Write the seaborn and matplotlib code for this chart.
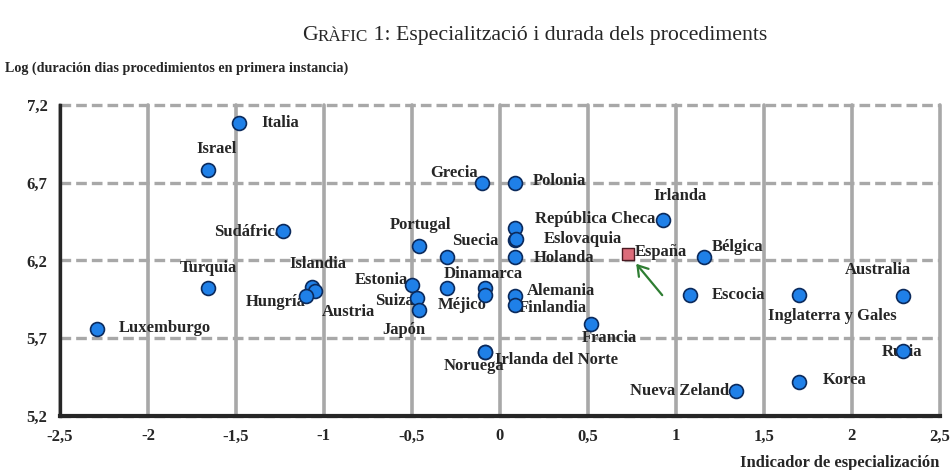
import matplotlib.pyplot as plt
import seaborn as sns
import pandas as pd

# datos
paises = ["Italia", "Israel", "Sudáfrica", "Turquia", "Islandia", "Austria", "Hungría",
          "Luxemburgo", "Estonia", "Suiza", "Japón", "Portugal", "", "", "Dinamarca", "Méjico",
          "Grecia", "Polonia", "República Checa", "Suecia", "Eslovaquia", "Holanda",
          "Alemania", "Finlandia", "Noruega", "Irlanda del Norte", "Francia", "España",
          "Irlanda", "Bélgica", "Escocia", "Inglaterra y Gales", "Australia", "Rusia",
          "Korea", "Nueva Zelanda"]
especializacion = [-1.48, -1.66, -1.23, -1.66, -1.07, -1.05, -1.10,
                   -2.29, -0.50, -0.47, -0.46, -0.46, -0.30, -0.30, -0.085, -0.085,
                   -0.10, 0.085, 0.085, 0.085, 0.09, 0.085,
                   0.085, 0.085, -0.085, -0.085, 0.52, 0.73,
                   0.93, 1.16, 1.08, 1.70, 2.29, 2.29,
                   1.70, 1.34]
log_duracion = [7.08, 6.78, 6.39, 6.02, 6.03, 6.00, 5.97,
                5.76, 6.04, 5.96, 5.88, 6.29, 6.22, 6.02, 6.02, 5.98,
                6.70, 6.70, 6.41, 6.33, 6.34, 6.22,
                5.97, 5.91, 5.61, 5.61, 5.79, 6.24,
                6.46, 6.22, 5.98, 5.98, 5.97, 5.62,
                5.42, 5.36]

x_ticks = [-2.5, -2, -1.5, -1, -0.5, 0, 0.5, 1, 1.5, 2, 2.5]
x_tick_labels = ["-2,5", "-2", "-1,5", "-1", "-0,5", "0", "0,5", "1", "1,5", "2", "2,5"]
y_ticks = [5.2, 5.7, 6.2, 6.7, 7.2]
y_tick_labels = ["5,2", "5,7", "6,2", "6,7", "7,2"]

# desplazamiento de cada etiqueta (pixeles)
offsets = {
    "Italia": (41, 0), "Israel": (9, 21), "Sudáfrica": (-35, -1), "Turquia": (1, 20),
    "Islandia": (6, 23), "Hungría": (-31, -6), "Austria": (33, -21), "Luxemburgo": (68, 1),
    "Estonia": (-30, 5), "Suiza": (-23, -3), "Japón": (-15, -20), "Portugal": (2, 21),
    "Dinamarca": (-2, 14), "Méjico": (-23, -10), "Grecia": (-28, 10), "Polonia": (45, 2),
    "República Checa": (80, 9), "Suecia": (-40, -1), "Eslovaquia": (67, 0), "Holanda": (49, -1),
    "Alemania": (46, 5), "Finlandia": (38, -3), "Noruega": (-11, -14),
    "Irlanda del Norte": (72, -8), "Francia": (18, -14), "España": (33, 2), "Irlanda": (17, 24),
    "Bélgica": (34, 10), "Escocia": (49, 0), "Inglaterra y Gales": (33, -21),
    "Australia": (-25, 26), "Rusia": (-1, -1), "Korea": (46, 2), "Nueva Zelanda": (-52, 0),
}

sns.set_style("white")
plt.rcParams["font.family"] = ["Liberation Serif", "DejaVu Serif"]

df = pd.DataFrame({"pais": paises, "x": especializacion, "y": log_duracion})
resto = df[df["pais"] != "España"]
espana = df[df["pais"] == "España"]

fig = plt.figure(figsize=(9.52, 4.70), dpi=100)
ax = fig.add_axes([0.063, 0.115, 0.924, 0.662])

sns.scatterplot(data=resto, x="x", y="y", ax=ax, s=100, color="#1f80e8",
                edgecolor="#0b2a5c", linewidth=1.2, zorder=3, legend=False)
sns.scatterplot(data=espana, x="x", y="y", ax=ax, marker="s", s=85, color="#dc6c7a",
                edgecolor="#4a1a22", linewidth=1.0, zorder=3, legend=False)

for _, r in df.iterrows():
    if r["pais"] == "":
        continue
    ax.annotate(r["pais"], (r["x"], r["y"]), xytext=offsets[r["pais"]],
                textcoords="offset pixels", ha="center", va="center",
                fontsize=12, fontweight="bold", zorder=2)

# flecha verde hacia España
ax.annotate("", xy=(espana["x"].iloc[0], espana["y"].iloc[0]), xytext=(34, -41),
            textcoords="offset pixels",
            arrowprops=dict(arrowstyle="->,head_length=0.7,head_width=0.45",
                            color="#2e7d32", lw=1.6, shrinkA=0, shrinkB=9))

ax.set_xlim(-2.5, 2.5)
ax.set_ylim(5.2, 7.2)
ax.set_xticks(x_ticks)
ax.set_xticklabels(x_tick_labels)
ax.set_yticks(y_ticks)
ax.set_yticklabels(y_tick_labels)
ax.set_xlabel("")
ax.set_ylabel("")
for lab in ax.get_xticklabels() + ax.get_yticklabels():
    lab.set_fontweight("bold")
    lab.set_fontsize(12)
ax.tick_params(axis="both", direction="out", length=3, width=2, color="black", pad=6)

ax.set_axisbelow(True)
ax.xaxis.grid(True, color="#a8a8a8", linestyle="-", linewidth=2.6)
ax.yaxis.grid(True, color="#a8a8a8", linestyle=(0, (3.2, 1.5)), linewidth=2.4)
for gl in ax.get_xgridlines() + ax.get_ygridlines():
    gl.set_clip_on(False)

ax.spines["top"].set_visible(False)
ax.spines["right"].set_visible(False)
ax.spines["left"].set_linewidth(2.4)
ax.spines["bottom"].set_linewidth(3)
ax.spines["left"].set_zorder(4)
ax.spines["bottom"].set_zorder(4)

# titulo con versalitas
t1 = fig.text(0.317, 0.905, "G", fontsize=15.7, va="bottom", ha="left")
t2 = ax.annotate("RÀFIC", xy=(1, 0), xycoords=t1, fontsize=12.3, va="bottom", ha="left",
                 annotation_clip=False)
ax.annotate(" 1: Especialització i durada dels procediments", xy=(1, 0), xycoords=t2,
            fontsize=15.7, va="bottom", ha="left", annotation_clip=False)

fig.text(5 / 952, 0.855, "Log (duración dias procedimientos en primera instancia)",
         fontsize=10.2, fontweight="bold", ha="left", va="center")
fig.text(0.987, 0.014, "Indicador de especialización", fontsize=12, fontweight="bold",
         ha="right", va="center")

plt.savefig("out.png", dpi=100)
